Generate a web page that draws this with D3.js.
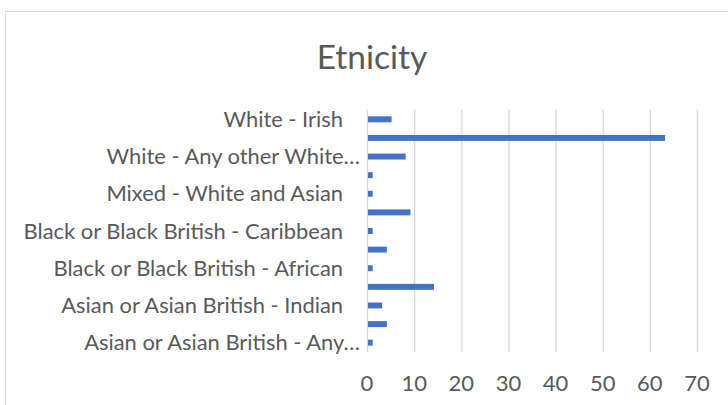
<!DOCTYPE html>
<html>
<head>
<meta charset="utf-8">
<script src="https://cdn.jsdelivr.net/npm/d3@7"></script>
<style>
  body { margin: 0; background: #fff; }
  svg { display: block; font-family: Lato, "Open Sans", sans-serif; }
</style>
</head>
<body>
<svg id="svg" width="728" height="405"></svg>
<script>
// categories, top to bottom as drawn
const categories = [
    "White - Irish",
    "White - British",
    "White - Any other White background",
    "Mixed - White and Black Caribbean",
    "Mixed - White and Asian",
    "Mixed - Any other mixed background",
    "Black or Black British - Caribbean",
    "Black or Black British - Any other Black background",
    "Black or Black British - African",
    "Asian or Asian British - Pakistani",
    "Asian or Asian British - Indian",
    "Asian or Asian British - Bangladeshi",
    "Asian or Asian British - Any other Asian background"
];
const counts = [5, 63, 8, 1, 1, 9, 1, 4, 1, 14, 3, 4, 1];

// only every other label fits, Excel-style truncated
const tickLabels = [
    "White - Irish", "", "White - Any other White…", "", "Mixed - White and Asian", "",
    "Black or Black British - Caribbean", "", "Black or Black British - African", "",
    "Asian or Asian British - Indian", "", "Asian or Asian British - Any…"
];
const xTicks = [0, 10, 20, 30, 40, 50, 60, 70];

draw();

function draw({
    left = 367,
    right = 697,
    top = 110,
    bottom = 352,
    barColor = "#4472c4",
    gridColor = "#d9d9d9",
    textColor = "#595959"
} = {}) {
    const svg = d3.select("#svg");

    // chart area border
    svg.append("rect")
        .attr("x", 5.5).attr("y", 11.5)
        .attr("width", 740).attr("height", 420)
        .attr("fill", "none")
        .attr("stroke", gridColor);

    svg.append("text")
        .attr("x", 372).attr("y", 69)
        .attr("text-anchor", "middle")
        .attr("font-size", 33.5)
        .attr("fill", textColor)
        .text("Etnicity");

    const x = d3.scaleLinear([0, 70], [left, right]);
    const y = d3.scaleBand(categories, [top, bottom]).paddingInner(0.68).paddingOuter(0.34);
    const band = d3.scaleBand(categories, [top, bottom]);

    // gridlines
    svg.append("g")
        .selectAll("line")
        .data(xTicks)
        .join("line")
        .attr("x1", d => x(d) + 0.5).attr("x2", d => x(d) + 0.5)
        .attr("y1", top).attr("y2", bottom)
        .attr("stroke", gridColor)
        .attr("stroke-width", 1.3);

    svg.append("g")
        .selectAll("rect")
        .data(categories)
        .join("rect")
        .attr("x", x(0) + 1)
        .attr("y", d => y(d))
        .attr("width", (d, i) => x(counts[i]) - x(0))
        .attr("height", y.bandwidth())
        .attr("fill", barColor);

    // category labels
    svg.append("g")
        .selectAll("text")
        .data(categories)
        .join("text")
        .attr("x", (d, i) => tickLabels[i].endsWith("…") ? 360 : 343)
        .attr("y", d => band(d) + band.bandwidth() / 2)
        .attr("dy", "0.35em")
        .attr("text-anchor", "end")
        .attr("font-size", 21.9)
        .attr("fill", textColor)
        .text((d, i) => tickLabels[i]);

    // value axis labels
    svg.append("g")
        .selectAll("text")
        .data(xTicks)
        .join("text")
        .attr("x", d => x(d))
        .attr("y", 383)
        .attr("dy", "0.35em")
        .attr("text-anchor", "middle")
        .attr("font-size", 22)
        .attr("fill", textColor)
        .text(d => d);
}
</script>
</body>
</html>
